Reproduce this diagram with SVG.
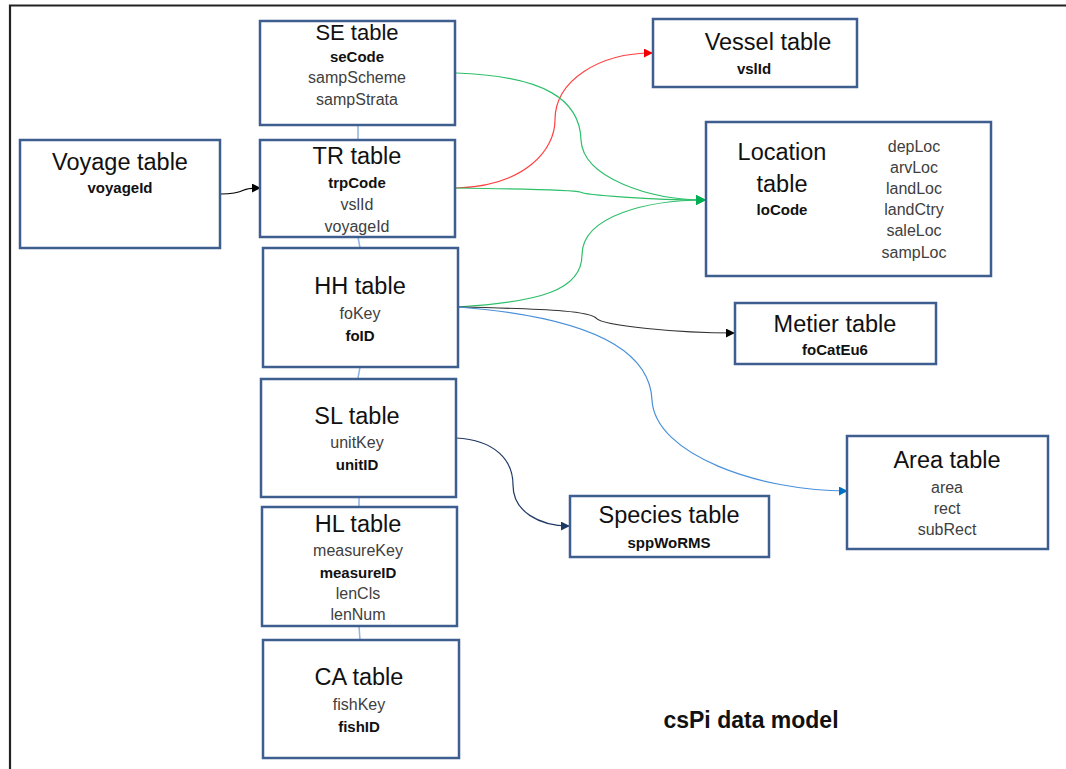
<svg xmlns="http://www.w3.org/2000/svg" width="1066" height="769" viewBox="0 0 1066 769">
<style>
.box{fill:#fff;stroke:#3D5E8E;stroke-width:2.5}
text{font-family:"Liberation Sans",Arial,sans-serif;text-anchor:middle}
.t{font-size:23.5px;fill:#111}
.b{font-size:15px;font-weight:bold;fill:#111}
.r{font-size:16px;fill:#404040}
.link{fill:none;stroke:#8DB3E2;stroke-width:1.5}
.c{fill:none;stroke-width:1.2}
</style>
<defs>
<marker id="aK" viewBox="0 0 10 10" refX="9" refY="5" markerWidth="9" markerHeight="9" markerUnits="userSpaceOnUse" orient="auto"><path d="M0,0L10,5L0,10z" fill="#000"/></marker>
<marker id="aR" viewBox="0 0 10 10" refX="9" refY="5" markerWidth="9" markerHeight="9" markerUnits="userSpaceOnUse" orient="auto"><path d="M0,0L10,5L0,10z" fill="#F00000"/></marker>
<marker id="aG" viewBox="0 0 10 10" refX="9" refY="5" markerWidth="10" markerHeight="10" markerUnits="userSpaceOnUse" orient="auto"><path d="M0,0L10,5L0,10z" fill="#00B050"/></marker>
<marker id="aB" viewBox="0 0 10 10" refX="9" refY="5" markerWidth="9" markerHeight="9" markerUnits="userSpaceOnUse" orient="auto"><path d="M0,0L10,5L0,10z" fill="#0070C0"/></marker>
<marker id="aN" viewBox="0 0 10 10" refX="9" refY="5" markerWidth="9" markerHeight="9" markerUnits="userSpaceOnUse" orient="auto"><path d="M0,0L10,5L0,10z" fill="#1F3864"/></marker>
</defs>
<rect width="1066" height="769" fill="#fff"/>
<path d="M10,769V5.5H1066" fill="none" stroke="#222" stroke-width="2.2"/>

<g id="connectors">
<path class="link" d="M358,125V140"/>
<path class="link" d="M358,237L360,248"/>
<path class="link" d="M360,367L358,378"/>
<path class="link" d="M359,497V507"/>
<path class="link" d="M359,626L360,640"/>
<path class="c" stroke="#000" d="M221,194C235,194 240,192 244,190C248,188 252,188 260,188" marker-end="url(#aK)"/>
<path class="c" stroke="#FF4040" d="M456,188C525,186 555,150 555,120C555,80 600,53 652,53" marker-end="url(#aR)"/>
<path class="c" stroke="#2EBF6A" d="M456,73C545,76 580,100 581,140C583,178 650,200 705,200" marker-end="url(#aG)"/>
<path class="c" stroke="#2EBF6A" d="M456,188C525,189 575,190 580,192C585,195 650,200 705,200" marker-end="url(#aG)"/>
<path class="c" stroke="#2EBF6A" d="M458,307C540,302 582,290 582,255C582,215 650,200 705,200" marker-end="url(#aG)"/>
<path class="c" stroke="#333" d="M458,307C560,309 590,312 596,318C602,326 680,333 734,333" marker-end="url(#aK)"/>
<path class="c" stroke="#4A90D9" d="M458,307C600,318 650,355 652,400C655,455 760,491 847,491" marker-end="url(#aB)"/>
<path class="c" stroke="#1F3864" d="M456,438C495,440 513,460 513,485C513,512 540,526 569,526" marker-end="url(#aN)"/>
</g>

<g id="se"><rect class="box" x="260" y="21" width="195" height="104"/>
<text class="t" x="357" y="40" style="font-size:22px">SE table</text>
<text class="b" x="357" y="62">seCode</text>
<text class="r" x="357" y="83">sampScheme</text>
<text class="r" x="357" y="105">sampStrata</text></g>

<g id="voyage"><rect class="box" x="20" y="140" width="200" height="108"/>
<text class="t" x="120" y="170">Voyage table</text>
<text class="b" x="120" y="193">voyageId</text></g>

<g id="tr"><rect class="box" x="260" y="140" width="195" height="97"/>
<text class="t" x="357" y="164">TR table</text>
<text class="b" x="357" y="188">trpCode</text>
<text class="r" x="357" y="210">vslId</text>
<text class="r" x="357" y="232">voyageId</text></g>

<g id="hh"><rect class="box" x="263" y="248" width="195" height="119"/>
<text class="t" x="360" y="294">HH table</text>
<text class="r" x="360" y="319">foKey</text>
<text class="b" x="360" y="341">foID</text></g>

<g id="sl"><rect class="box" x="261" y="379" width="195" height="118"/>
<text class="t" x="357" y="424">SL table</text>
<text class="r" x="357" y="448">unitKey</text>
<text class="b" x="357" y="470">unitID</text></g>

<g id="hl"><rect class="box" x="262" y="507" width="195" height="119"/>
<text class="t" x="358" y="532">HL table</text>
<text class="r" x="358" y="556">measureKey</text>
<text class="b" x="358" y="578">measureID</text>
<text class="r" x="358" y="599">lenCls</text>
<text class="r" x="358" y="620">lenNum</text></g>

<g id="ca"><rect class="box" x="263" y="640" width="196" height="118"/>
<text class="t" x="359" y="685">CA table</text>
<text class="r" x="359" y="710">fishKey</text>
<text class="b" x="359" y="732">fishID</text></g>

<g id="vessel"><rect class="box" x="653" y="19" width="204" height="68"/>
<text class="t" x="768" y="50">Vessel table</text>
<text class="b" x="754" y="74">vslId</text></g>

<g id="location"><rect class="box" x="706" y="122" width="285" height="154"/>
<text class="t" x="782" y="160">Location</text>
<text class="t" x="782" y="192">table</text>
<text class="b" x="782" y="215">loCode</text>
<text class="r" x="914" y="152">depLoc</text>
<text class="r" x="914" y="173">arvLoc</text>
<text class="r" x="914" y="194">landLoc</text>
<text class="r" x="914" y="215">landCtry</text>
<text class="r" x="914" y="236">saleLoc</text>
<text class="r" x="914" y="258">sampLoc</text></g>

<g id="metier"><rect class="box" x="735" y="303" width="201" height="61"/>
<text class="t" x="835" y="332">Metier table</text>
<text class="b" x="835" y="355">foCatEu6</text></g>

<g id="area"><rect class="box" x="847" y="436" width="201" height="113"/>
<text class="t" x="947" y="468">Area table</text>
<text class="r" x="947" y="493">area</text>
<text class="r" x="947" y="514">rect</text>
<text class="r" x="947" y="535">subRect</text></g>

<g id="species"><rect class="box" x="570" y="496" width="199" height="61"/>
<text class="t" x="669" y="523">Species table</text>
<text class="b" x="669" y="548">sppWoRMS</text></g>

<text x="751" y="728" style="font-size:23px;font-weight:bold;fill:#111">csPi data model</text>
</svg>
